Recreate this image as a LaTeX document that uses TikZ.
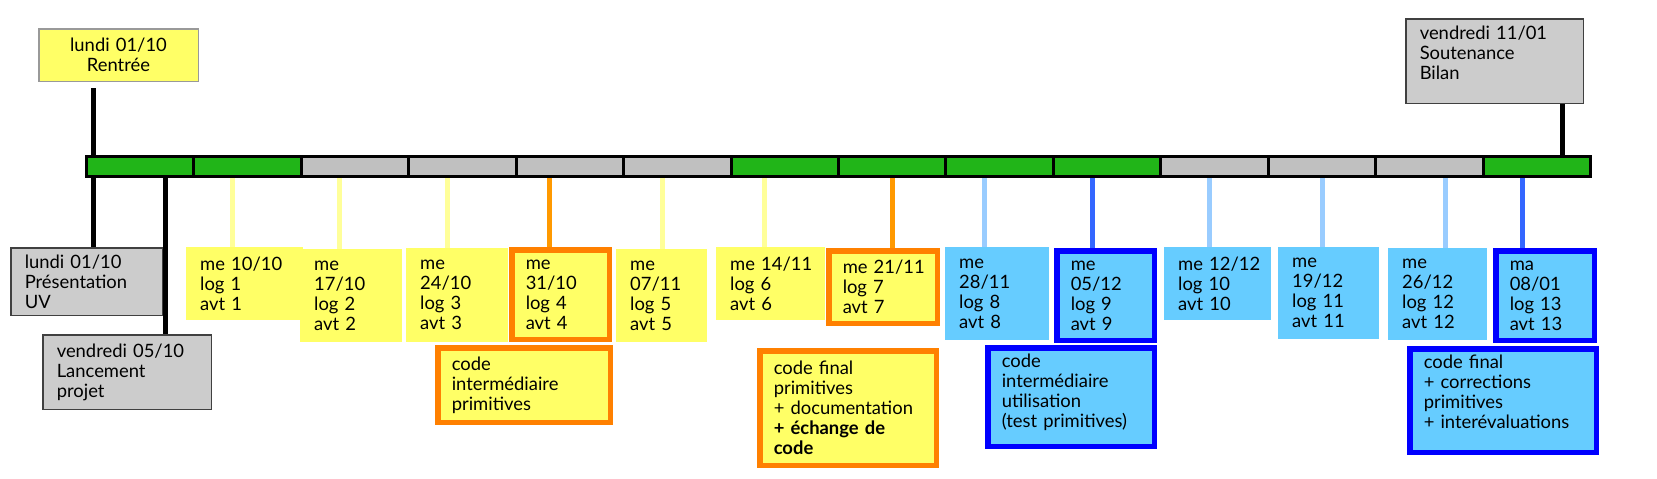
\documentclass[tikz,border=0pt]{standalone}
\usepackage{fontspec}
\setmainfont{Lato}
\usetikzlibrary{positioning}

\definecolor{grn}{RGB}{33,181,24}
\definecolor{bargray}{RGB}{192,192,192}
\definecolor{boxgray}{RGB}{204,204,204}
\definecolor{yel}{RGB}{255,255,102}
\definecolor{blu}{RGB}{102,204,255}
\definecolor{orng}{RGB}{255,128,0}
\definecolor{lineorng}{RGB}{255,153,0}
\definecolor{lineyel}{RGB}{255,255,153}
\definecolor{lineblu}{RGB}{153,204,255}
\definecolor{deepblu}{RGB}{51,102,255}
\definecolor{edgeblu}{RGB}{0,0,255}

\begin{document}
\begin{tikzpicture}[x=1pt, y=-1pt, node distance={107.43pt},
  every node/.style = {font=\fontsize{18.4}{20}\selectfont},
  seg/.style = {draw, line width=3pt, minimum width=107.43pt, minimum height=20pt, inner sep=0pt},
  card/.style = {anchor=north west, align=left, inner xsep=14pt, inner ysep=0pt},
  grey/.style = {card, fill=boxgray, draw=black!75, line width=1.5pt},
  ybox/.style = {card, fill=yel},
  bbox/.style = {card, fill=blu},
  yfram/.style = {card, fill=yel, draw=orng, line width=5.5pt},
  bfram/.style = {card, fill=blu, draw=edgeblu, line width=5.5pt},
  tick/.style = {line width=5pt},
  ylink/.style = {tick, lineyel},
  olink/.style = {tick, lineorng},
  blink/.style = {tick, lineblu},
  dlink/.style = {tick, deepblu}]
\useasboundingbox (0,0) rectangle (1657,479);

% the weeks
\node[seg, fill=grn] (s1) at (140.21,166.5) {};
\node[seg, fill=grn] (s2) [right of=s1] {};
\node[seg, fill=bargray] (s3) [right of=s2] {};
\node[seg, fill=bargray] (s4) [right of=s3] {};
\node[seg, fill=bargray] (s5) [right of=s4] {};
\node[seg, fill=bargray] (s6) [right of=s5] {};
\node[seg, fill=grn] (s7) [right of=s6] {};
\node[seg, fill=grn] (s8) [right of=s7] {};
\node[seg, fill=grn] (s9) [right of=s8] {};
\node[seg, fill=grn] (s10) [right of=s9] {};
\node[seg, fill=bargray] (s11) [right of=s10] {};
\node[seg, fill=bargray] (s12) [right of=s11] {};
\node[seg, fill=bargray] (s13) [right of=s12] {};
\node[seg, fill=grn] (s14) [right of=s13] {};

% milestones
\node[card, align=center, fill=yel, draw=black!40, line width=1.5pt, text width=131.5pt, minimum height=52.5pt] (rentree) at (38,28) {lundi 01/10\\Rentrée};
\node[grey, text width=123.5pt, minimum height=67.5pt] (pres) at (10,247) {lundi 01/10\\Présentation\\UV};
\node[grey, text width=140.5pt, minimum height=74.5pt] (lanc) at (42,334) {vendredi 05/10\\Lancement\\projet};
\node[grey, text width=149.5pt, minimum height=84.5pt, text depth=56pt] (sout) at (1405,18) {vendredi 11/01\\Soutenance\\Bilan};

% wednesdays
\node[ybox, text width=89pt, minimum height=73pt] (b1) at (186,247) {me~10/10\\log 1\\avt 1};
\node[ybox, text width=74pt, minimum height=93pt] (b2) at (300,249) {me\\17/10\\log 2\\avt 2};
\node[ybox, text width=74pt, minimum height=94pt] (b3) at (406,248) {me\\24/10\\log 3\\avt 3};
\node[yfram, text width=69.5pt, minimum height=89.5pt] (b4) at (509,247) {me\\31/10\\log 4\\avt 4};
\node[yfram, text width=144.5pt, minimum height=74.5pt] (c4) at (435,345) {code\\intermédiaire\\primitives};
\node[ybox, text width=63pt, minimum height=93pt] (b5) at (616,249) {me\\07/11\\log 5\\avt 5};
\node[ybox, text width=81pt, minimum height=73pt] (b6) at (716,247) {me~14/11\\log 6\\avt 6};
\node[yfram, text width=80.5pt, minimum height=72.5pt] (b7) at (826,248) {me~21/11\\log 7\\avt 7};
\node[yfram, text width=148.5pt, minimum height=114.5pt] (c7) at (757,348) {code final\\primitives\\+ documentation\\\textbf{+ échange de}\\\textbf{code}};
\node[bbox, text width=76pt, minimum height=93pt] (b8) at (945,247) {me\\28/11\\log 8\\avt 8};
\node[bfram, text width=69.5pt, minimum height=89.5pt] (b9) at (1054,248) {me\\05/12\\log 9\\avt 9};
\node[bfram, text width=138.5pt, minimum height=98.5pt, text depth=72pt] (c9) at (985,345) {code\\intermédiaire\\utilisation\\(test primitives)};
\node[bbox, text width=79pt, minimum height=73pt] (b10) at (1164,247) {me~12/12\\log 10\\avt 10};
\node[bbox, text width=73pt, minimum height=92pt] (b11) at (1278,247) {me\\19/12\\log 11\\avt 11};
\node[bbox, text width=71pt, minimum height=92pt] (b12) at (1388,248) {me\\26/12\\log 12\\avt 12};
\node[bfram, text width=70.5pt, minimum height=89.5pt] (b13) at (1493,248) {ma\\08/01\\log 13\\avt 13};
\node[bfram, text width=158.5pt, minimum height=103.5pt, text depth=78pt] (c13) at (1407,346) {code final\\+ corrections\\primitives\\+ interévaluations};

% ticks
\draw[tick, shorten <=6pt] (rentree.south -| 93,0) -- (s1.north -| 93,0);
\draw[tick] (s1.south -| 93,0) -- (pres.north -| 93,0);
\draw[tick] (s1.south -| 165,0) -- (lanc.north -| 165,0);
\draw[tick] (sout.south -| 1562,0) -- (s14.north -| 1562,0);

\draw[ylink] (s2.south -| 232,0) -- (b1.north -| 232,0);
\draw[ylink] (s3.south -| 339,0) -- (b2.north -| 339,0);
\draw[ylink] (s4.south -| 447,0) -- (b3.north -| 447,0);
\draw[olink] (s5.south -| 549,0) -- (b4.north -| 549,0);
\draw[ylink] (s6.south -| 662,0) -- (b5.north -| 662,0);
\draw[ylink] (s7.south -| 764,0) -- (b6.north -| 764,0);
\draw[olink] (s8.south -| 892,0) -- (b7.north -| 892,0);
\draw[blink] (s9.south -| 984,0) -- (b8.north -| 984,0);
\draw[dlink] (s10.south -| 1092,0) -- (b9.north -| 1092,0);
\draw[blink] (s11.south -| 1209,0) -- (b10.north -| 1209,0);
\draw[blink] (s12.south -| 1322,0) -- (b11.north -| 1322,0);
\draw[blink] (s13.south -| 1445,0) -- (b12.north -| 1445,0);
\draw[dlink] (s14.south -| 1522,0) -- (b13.north -| 1522,0);

\end{tikzpicture}
\end{document}
